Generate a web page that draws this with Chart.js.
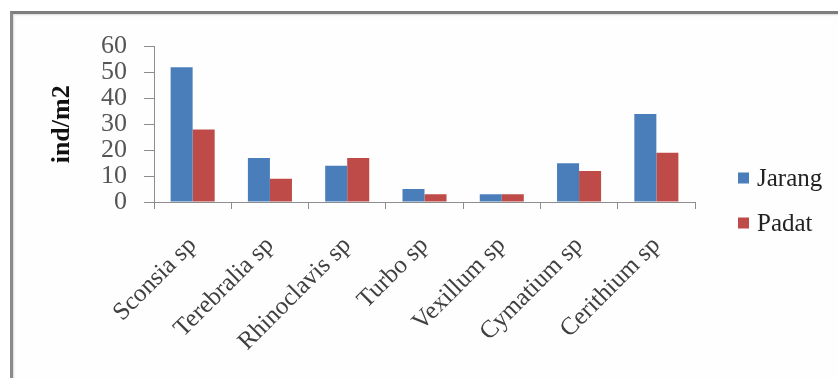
<!DOCTYPE html>
<html>
<head>
<meta charset="utf-8">
<script src="https://cdn.jsdelivr.net/npm/chart.js@4"></script>
<style>
  html, body { margin: 0; padding: 0; background: #ffffff; }
  body { width: 838px; height: 378px; position: relative; overflow: hidden; }
  #frame {
    position: absolute; left: 10px; top: 11px; width: 840px; height: 380px;
    border-left: 3px solid #8a8a8a; border-top: 3px solid #7d7d7d;
    box-shadow: inset 1px 1px 2px rgba(0,0,0,0.15);
    background: #fefefe;
  }
  #wrap { position: absolute; left: 13px; top: 14px; width: 825px; height: 364px; }
</style>
</head>
<body>
<div id="frame"></div>
<div id="wrap"><canvas id="c" width="825" height="364"></canvas></div>
<script>
// Gastropod density (ind/m2) per species in sparse (Jarang) vs dense (Padat) stands
const species = ['Sconsia sp', 'Terebralia sp', 'Rhinoclavis sp', 'Turbo sp', 'Vexillum sp', 'Cymatium sp', 'Cerithium sp'];
const jarang = [52, 17, 14, 5, 3, 15, 34];
const padat = [28, 9, 17, 3, 3, 12, 19];
const yTicks = [0, 10, 20, 30, 40, 50, 60];

const serif = "'Liberation Serif', 'Times New Roman', serif";

// Legend drawn as a column to the right of the plot, one square + name per dataset
const sideLegend = {
  id: 'sideLegend',
  afterDraw(chart) {
    const ctx = chart.ctx;
    const x0 = chart.chartArea.right + 43;
    let y = 164;
    ctx.save();
    ctx.font = "25px " + serif;
    ctx.textBaseline = 'middle';
    ctx.textAlign = 'left';
    chart.data.datasets.forEach((ds) => {
      ctx.fillStyle = ds.backgroundColor;
      ctx.fillRect(x0, y - 5.5, 11, 11);
      ctx.fillStyle = '#222222';
      ctx.fillText(ds.label, x0 + 19, y + 1);
      y += 45;
    });
    ctx.restore();
  }
};

new Chart(document.getElementById('c'), {
  type: 'bar',
  data: {
    labels: species,
    datasets: [
      { label: 'Jarang', data: jarang, backgroundColor: '#4a7ebb', borderWidth: 0 },
      { label: 'Padat', data: padat, backgroundColor: '#be4b48', borderWidth: 0 }
    ]
  },
  plugins: [sideLegend],
  options: {
    responsive: false,
    animation: false,
    devicePixelRatio: 1,
    layout: { padding: { top: 30, right: 143, left: 0, bottom: 0 } },
    datasets: { bar: { categoryPercentage: 0.57, barPercentage: 1.0 } },
    plugins: {
      tooltip: { enabled: false },
      legend: { display: false }
    },
    scales: {
      x: {
        grid: { display: true, drawOnChartArea: false, drawTicks: true, tickLength: 7, color: '#8c8c8c', offset: true },
        border: { color: '#8c8c8c', width: 1 },
        ticks: {
          maxRotation: 45, minRotation: 45, padding: 22, autoSkip: false,
          color: '#404040',
          font: { family: serif, size: 25 }
        },
        afterFit: (s) => { s.height = 176; }
      },
      y: {
        min: 0, max: 60,
        afterBuildTicks: (s) => { s.ticks = yTicks.map(v => ({ value: v })); },
        grid: { display: true, drawOnChartArea: false, drawTicks: true, tickLength: 10, color: '#8c8c8c' },
        border: { color: '#8c8c8c', width: 1 },
        ticks: {
          padding: 17, autoSkip: false,
          color: '#555555',
          font: { family: serif, size: 26 }
        },
        title: {
          display: true, text: 'ind/m2', color: '#111111',
          font: { family: serif, size: 26, weight: 'bold' },
          padding: { top: 34, bottom: 0 }
        },
        afterFit: (s) => { s.width = 141; }
      }
    }
  }
});
</script>
</body>
</html>
